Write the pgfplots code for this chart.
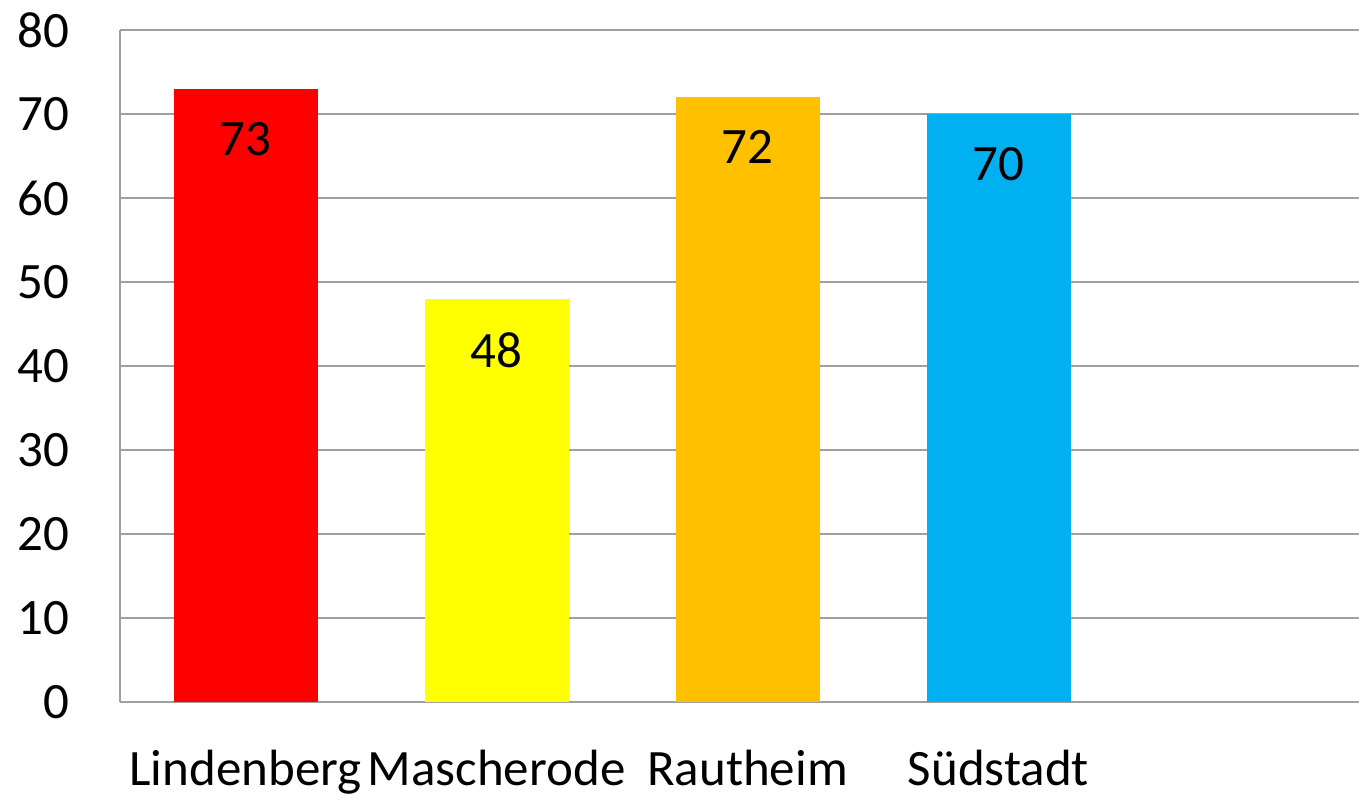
\documentclass[border=0pt]{standalone}
\usepackage{pgfplots}
\pgfplotsset{compat=1.18}
\usepackage{fontspec}
\setmainfont{Carlito}
\definecolor{rot}{HTML}{FF0000}
\definecolor{gelb}{HTML}{FFFF00}
\definecolor{orange}{HTML}{FFC000}
\definecolor{blau}{HTML}{00B0F0}
\definecolor{gitter}{HTML}{A0A0A0}
\begin{document}
\fontsize{25.5pt}{30pt}\selectfont
\begin{tikzpicture}
\path[use as bounding box] (-60pt,-48pt) rectangle (619.5pt,351pt);
\begin{axis}[name=ax, at={(0,0)}, anchor=south west,
  scale only axis, width=619.5pt, height=336pt,
  xmin=-0.5, xmax=4.436, ymin=0, ymax=80,
  ytick={0,10,...,80}, xtick={0,1,2,3},
  xticklabels={Lindenberg,Mascherode,Rautheim,Südstadt},
  axis lines*=left, axis line style={gitter, line width=1pt},
  ymajorgrids, grid style={gitter, line width=1pt},
  major tick length=0pt,
  tick label style={font=\fontsize{25.5pt}{30pt}\selectfont},
  /pgf/number format/assume math mode=true,
  yticklabel style={xshift=-16.5pt},
  xticklabel style={yshift=-15.5pt},
  ybar, bar width=72pt, bar shift=0pt,
  nodes near coords,
  every node near coord/.append style={anchor=north, yshift=-8pt, black,
    font=\fontsize{25.5pt}{30pt}\selectfont},
]
\addplot[fill=rot, draw=none] coordinates {(0,73)};
\addplot[fill=gelb, draw=none] coordinates {(1,48)};
\addplot[fill=orange, draw=none] coordinates {(2,72)};
\addplot[fill=blau, draw=none] coordinates {(3,70)};
\end{axis}
\end{tikzpicture}
\end{document}
